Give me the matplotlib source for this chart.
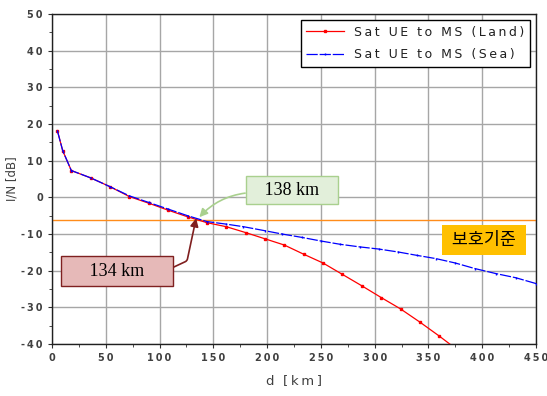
import matplotlib.pyplot as plt
import numpy as np

# distance [km] and I/N [dB]
d_land = [5, 10, 18, 36, 54, 72, 90, 108, 126, 144, 162, 180, 198, 216, 234, 252, 270, 288, 306, 324, 342, 360, 378]
in_land = [18.2, 12.7, 7.3, 5.3, 2.9, 0.2, -1.6, -3.5, -5.3, -6.9, -8.0, -9.6, -11.3, -13.0, -15.5, -17.9, -21.0, -24.1, -27.3, -30.4, -34.0, -37.8, -41.8]

d_sea = [5, 10, 18, 36, 54, 72, 90, 108, 126, 144, 162, 178, 198, 214, 232, 250, 268, 286, 304, 322, 339, 357, 375, 393, 413, 431, 450]
in_sea = [18.2, 12.7, 7.3, 5.3, 2.9, 0.4, -1.4, -3.2, -5.0, -6.6, -7.3, -8.0, -9.1, -10.0, -10.9, -11.9, -12.8, -13.5, -14.1, -14.9, -15.8, -16.7, -17.9, -19.4, -20.8, -21.9, -23.5]

threshold = -6.2
x_ticks = np.arange(0, 451, 50)
y_ticks = np.arange(-40, 51, 10)

def spaced(s):
    # the original software draws text with wide letter spacing
    return '\u2009'.join(s)

fig = plt.figure(figsize=(5.47, 3.96), dpi=100)
ax = fig.add_axes([0.095, 0.131, 0.885, 0.834])

ax.plot(d_land, in_land, color='red', lw=0.9, marker='s', ms=1.6,
        label=spaced('Sat UE to MS (Land)'), zorder=3)
ax.plot(d_sea, in_sea, color='blue', lw=0.9, ls=(0, (9, 1.5)), marker='|', ms=2,
        label=spaced('Sat UE to MS (Sea)'), zorder=4)
ax.axhline(threshold, color='#ff8c1a', lw=1, zorder=2)

ax.set_xlim(0, 450)
ax.set_ylim(-40, 50)
ax.set_xticks(x_ticks, [spaced(str(v)) for v in x_ticks])
ax.set_yticks(y_ticks, [spaced(str(v)) for v in y_ticks])
ax.set_xticks(np.arange(25, 450, 50), minor=True)
ax.set_yticks(np.arange(-35, 50, 10), minor=True)
ax.grid(True, which='major', color='#a6a6a6', lw=1)
ax.tick_params(which='both', direction='out', color='#303030', labelsize=7, labelcolor='#404040')
ax.tick_params(which='major', length=3)
ax.tick_params(which='minor', length=2)
for lab in ax.get_xticklabels() + ax.get_yticklabels():
    lab.set_fontweight('bold')
for s in ax.spines.values():
    s.set_color('#202020')
    s.set_linewidth(1)

ax.set_xlabel('d  [\u2009k\u2009m\u2009]', fontsize=9.5, color='#404040', labelpad=8)
ax.set_ylabel('I/N [dB]', fontsize=8.5, color='#404040', labelpad=2)

leg = ax.legend(loc='upper right', fontsize=9, fancybox=False, framealpha=1,
                edgecolor='black', handlelength=3.0, borderaxespad=0.5,
                labelspacing=0.75, borderpad=0.45)
leg.get_frame().set_linewidth(1)
for t in leg.get_texts():
    t.set_color('#202020')

# annotations
ax.annotate('   138 km   ', xy=(137, -5.4), xytext=(223, 2.0), fontsize=13, family='Liberation Serif',
            ha='center', va='center',
            bbox=dict(boxstyle='square,pad=0.3', fc='#e2efda', ec='#a9d08e', lw=1),
            arrowprops=dict(arrowstyle='-|>', color='#a9d08e', lw=1.2, mutation_scale=12,
                            relpos=(0, 0.35), connectionstyle='arc3,rad=0.2',
                            shrinkA=0, shrinkB=0))
ax.annotate('     134 km     ', xy=(134, -5.7), xytext=(60.5, -20.1), fontsize=13, family='Liberation Serif',
            ha='center', va='center',
            bbox=dict(boxstyle='square,pad=0.35', fc='#e6b9b8', ec='#7f2020', lw=1),
            arrowprops=dict(arrowstyle='-|>', color='#7f1f1f', lw=1.2, mutation_scale=12,
                            relpos=(1, 0.55), connectionstyle='angle,angleA=25,angleB=78,rad=2',
                            shrinkA=0, shrinkB=0))
ax.text(401.6, -11.6, ' 보호기준 ', fontsize=12.5, family=['Noto Sans CJK KR', 'DejaVu Sans'],
        ha='center', va='center',
        bbox=dict(boxstyle='square,pad=0.35', fc='#ffc000', ec='none'))

fig.savefig('out.png', dpi=100)
